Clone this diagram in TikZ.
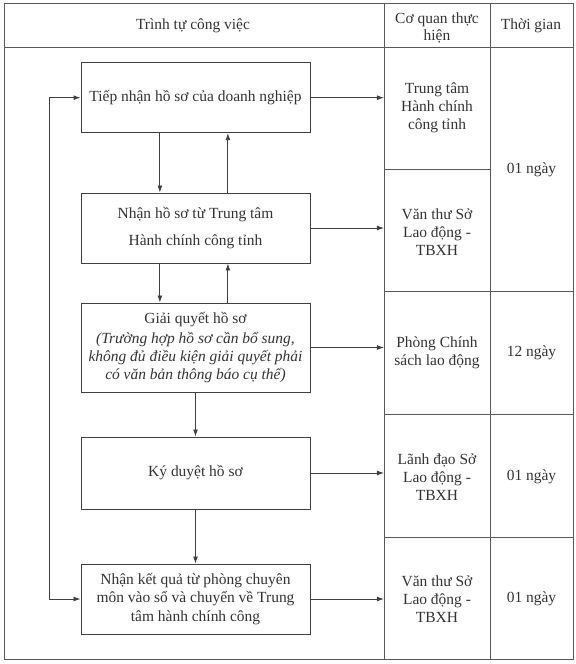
\documentclass[tikz,border=0pt]{standalone}
\usepackage{fontspec}
\setmainfont{Liberation Serif}
\usetikzlibrary{arrows.meta,positioning,calc}

\begin{document}
\begin{tikzpicture}[>={Latex[length=5pt,width=3.5pt]},x=0.025cm,y=-0.025cm,
  box/.style={draw=black!75,line width=0.6pt,minimum width=5.725cm,align=center,text=black!80,font=\fontsize{11}{13}\selectfont,inner sep=2pt},
  cell/.style={align=center,text=black!80,font=\fontsize{11}{13}\selectfont},
  flow/.style={draw=black!75,line width=0.6pt,->}]
  \useasboundingbox (0,0) rectangle (576,664);

  % table grid
  \draw[black!65,line width=0.6pt] (4,3) rectangle (573,659);
  \draw[black!65,line width=0.6pt] (4,47) -- (573,47);
  \draw[black!65,line width=0.6pt] (384,3) -- (384,659);
  \draw[black!65,line width=0.6pt] (490,3) -- (490,659);
  \draw[black!65,line width=0.6pt] (384,169) -- (490,169);
  \draw[black!65,line width=0.6pt] (384,291) -- (573,291);
  \draw[black!65,line width=0.6pt] (384,414) -- (573,414);
  \draw[black!65,line width=0.6pt] (384,537) -- (573,537);

  % header
  \node[cell] (hstep) at (193,26) {Trình tự công việc};
  \node[cell,font=\fontsize{11}{12}\selectfont] (hunit) at (437,28) {Cơ quan thực\\hiện};
  \node[cell] (htime) at (531,26) {Thời gian};

  % process boxes
  \node[box,minimum height=1.75cm] (b1) at (195.5,97.7) {Tiếp nhận hồ sơ của doanh nghiệp};
  \node[box,minimum height=1.75cm] (b2) at (195.5,228) {Nhận hồ sơ từ Trung tâm\\[6pt]Hành chính công tỉnh};
  \node[box,minimum height=2.225cm] (b3) at (195.5,347.5) {Giải quyết hồ sơ\\[1pt]\itshape(Trường hợp hồ sơ cần bổ sung,\\\itshape không đủ điều kiện giải quyết phải\\\itshape có văn bản thông báo cụ thể)};
  \node[box,minimum height=1.8cm] (b4) at (195.5,473) {Ký duyệt hồ sơ};
  \node[box,minimum height=1.75cm] (b5) at (195.5,599) {Nhận kết quả từ phòng chuyên\\môn vào sổ và chuyển về Trung\\tâm hành chính công};

  % units
  \node[cell] (u1) at (437,108) {Trung tâm\\Hành chính\\công tỉnh};
  \node[cell] (u2) at (437,232) {Văn thư Sở\\Lao động -\\TBXH};
  \node[cell] (u3) at (437,353) {Phòng Chính\\sách lao động};
  \node[cell] (u4) at (437,477) {Lãnh đạo Sở\\Lao động -\\TBXH};
  \node[cell] (u5) at (437,599) {Văn thư Sở\\Lao động -\\TBXH};

  % times
  \node[cell] (t1) at (531.5,170) {01 ngày};
  \node[cell] (t2) at (531.5,353) {12 ngày};
  \node[cell] (t3) at (531.5,477) {01 ngày};
  \node[cell] (t4) at (531.5,599) {01 ngày};

  \coordinate (col) at (384,0);
  \coordinate (fb) at (49,0);

  % vertical flow
  \draw[flow] ([xshift=-0.89cm]b1.south) -- ([xshift=-0.89cm]b2.north);
  \draw[flow] ([xshift=0.81cm]b2.north) -- ([xshift=0.81cm]b1.south);
  \draw[flow] ([xshift=-0.89cm]b2.south) -- ([xshift=-0.89cm]b3.north);
  \draw[flow] ([xshift=0.81cm]b3.north) -- ([xshift=0.81cm]b2.south);
  \draw[flow] (b3.south) -- (b4.north);
  \draw[flow] (b4.south) -- (b5.north);

  % to units
  \draw[flow] (b1.east) -- (b1.east -| col);
  \draw[flow] (b2.east) -- (b2.east -| col);
  \draw[flow] (b3.east) -- (b3.east -| col);
  \draw[flow] (b4.east) -- (b4.east -| col);
  \draw[flow] (b5.east) -- (b5.east -| col);

  % loop back
  \draw[flow,<->] (b1.west) -- (b1.west -| fb) -- (b5.west -| fb) -- (b5.west);
\end{tikzpicture}
\end{document}
